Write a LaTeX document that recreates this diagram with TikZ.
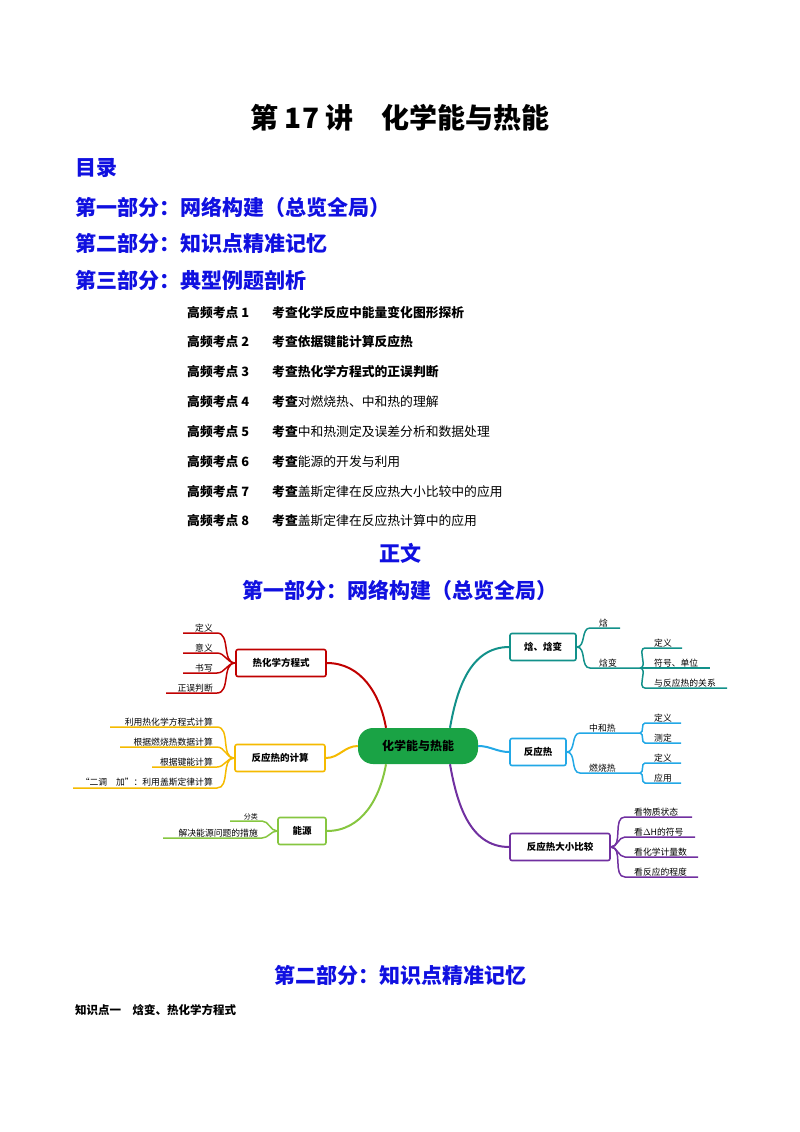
\documentclass[tikz,border=0pt]{standalone}
\usepackage{fontspec}
\setmainfont{Liberation Serif}
\newfontfamily\cjk{Noto Sans CJK SC}
\definecolor{tblue}{HTML}{1010E0}
\definecolor{cred}{HTML}{C00000}
\definecolor{cyel}{HTML}{F5BA00}
\definecolor{cgrn}{HTML}{86C640}
\definecolor{cteal}{HTML}{12918A}
\definecolor{csky}{HTML}{22A8E6}
\definecolor{cpur}{HTML}{7030A0}
\definecolor{cctr}{HTML}{1AA345}
\tikzset{
  x=1pt,y=-1pt,
  hd/.style={font=\cjk\bfseries\fontsize{21}{22}\selectfont,text=tblue,inner sep=0},
  it/.style={font=\cjk\bfseries\fontsize{12.8}{13}\selectfont,anchor=west,inner sep=0},
  box/.style={draw,line width=1.6pt,rounded corners=2pt,fill=white,font=\cjk\bfseries\fontsize{9.5}{10}\selectfont,minimum height=27pt,inner xsep=4pt},
  br/.style={line width=2pt},
  lf/.style={line width=1.5pt},
  lt/.style={font=\cjk\fontsize{8.8}{9}\selectfont,anchor=south east,inner sep=1pt},
}
\newcommand{\leafx}[7]{%
  \coordinate (#1r) at (#5,#6); \coordinate (#1l) at (#4,#6);
  \draw[lf,#2] (#3) to[out=180,in=0] (#1r) -- (#1l);
  \node[lt] (#1t) at (#5-3,#6) {#7};}
\newcommand{\leafy}[7]{%
  \coordinate (#1l) at (#4,#6); \coordinate (#1r) at (#5,#6);
  \draw[lf,#2] (#3) to[out=0,in=180] (#1l) -- (#1r);
  \node[lt,anchor=south west] (#1t) at (#4+8,#6) {#7};}
\begin{document}
\begin{tikzpicture}
\useasboundingbox (0,0) rectangle (800,1132);
\node[font=\cjk\bfseries\fontsize{28}{29}\selectfont] (title) at (400,118) {第 17 讲\quad 化学能与热能};
\node[hd,anchor=west] (ml) at (75,168) {目录};
\node[hd,anchor=west] (p1) at (75,207) {第一部分：网络构建（总览全局）};
\node[hd,anchor=west] (p2) at (75,243) {第二部分：知识点精准记忆};
\node[hd,anchor=west] (p3) at (75,280) {第三部分：典型例题剖析};
\foreach \i/\y/\t in {1/313/{\bfseries 考查化学反应中能量变化图形探析},
  2/342/{\bfseries 考查依据键能计算反应热},
  3/372/{\bfseries 考查热化学方程式的正误判断},
  4/402/{\bfseries 考查}{\mdseries 对燃烧热、中和热的理解},
  5/432/{\bfseries 考查}{\mdseries 中和热测定及误差分析和数据处理},
  6/462/{\bfseries 考查}{\mdseries 能源的开发与利用},
  7/492/{\bfseries 考查}{\mdseries 盖斯定律在反应热大小比较中的应用},
  8/521/{\bfseries 考查}{\mdseries 盖斯定律在反应热计算中的应用}}{
  \node[it] (k\i) at (187,\y) {高频考点 \i};
  \node[it] (t\i) at (272,\y) {\t};
}
\node[hd] (zw) at (400,553) {正文};
\node[hd] (p1b) at (400,590) {第一部分：网络构建（总览全局）};
\node[hd] (p2b) at (400,975) {第二部分：知识点精准记忆};
\node[it,font=\cjk\bfseries\fontsize{11.5}{12}\selectfont] (z1) at (75,1010) {知识点一\quad 焓变、热化学方程式};

\node[fill=cctr,rounded corners=15pt,minimum width=120pt,minimum height=36pt,font=\cjk\bfseries\fontsize{12}{12}\selectfont] (c) at (418,746) {化学能与热能};
\node[box,draw=cred,minimum width=90pt] (a) at (281,663) {热化学方程式};
\node[box,draw=cyel,minimum width=90pt] (b) at (280,758) {反应热的计算};
\node[box,draw=cgrn,minimum width=48pt] (d) at (302,831) {能源};
\node[box,draw=cteal,minimum width=66pt] (e) at (543,647) {焓、焓变};
\node[box,draw=csky,minimum width=56pt] (f) at (538,752) {反应热};
\node[box,draw=cpur,minimum width=100pt] (g) at (560,847) {反应热大小比较};
\draw[br,cred] ([xshift=-32pt]c.north) to[out=100,in=0] (a.east);
\draw[br,cyel] (c.west) to[out=180,in=0] (b.east);
\draw[br,cgrn] ([xshift=-32pt]c.south) to[out=-100,in=0] (d.east);
\draw[br,cteal] ([xshift=32pt]c.north) to[out=80,in=180] (e.west);
\draw[br,csky] (c.east) to[out=0,in=180] (f.west);
\draw[br,cpur] ([xshift=32pt]c.south) to[out=-80,in=180] (g.west);
\leafx{a1}{cred}{a.west}{183}{217}{633}{定义}
\leafx{a2}{cred}{a.west}{183}{217}{653}{意义}
\leafx{a3}{cred}{a.west}{183}{217}{673}{书写}
\leafx{a4}{cred}{a.west}{166}{217}{693}{正误判断}
\leafx{b1}{cyel}{b.west}{110}{217}{727}{利用热化学方程式计算}
\leafx{b2}{cyel}{b.west}{120}{217}{747}{根据燃烧热数据计算}
\leafx{b3}{cyel}{b.west}{152}{217}{767}{根据键能计算}
\leafx{b4}{cyel}{b.west}{73}{217}{788}{“二调\quad 加”：利用盖斯定律计算}
\leafx{d1}{cgrn}{d.west}{230}{262}{821}{\fontsize{7}{7}\selectfont 分类}
\leafx{d2}{cgrn}{d.west}{163}{262}{838}{解决能源问题的措施}
\leafy{e1}{cteal}{e.east}{590}{620}{628}{焓}
\leafy{e2}{cteal}{e.east}{590}{640}{668}{焓变}
\leafy{e3}{cteal}{e2r}{645}{682}{648}{定义}
\leafy{e4}{cteal}{e2r}{645}{710}{668}{符号、单位}
\leafy{e5}{cteal}{e2r}{645}{727}{688}{与反应热的关系}
\leafy{f1}{csky}{f.east}{580}{640}{733}{中和热}
\leafy{f2}{csky}{f.east}{580}{640}{773}{燃烧热}
\leafy{f3}{csky}{f1r}{645}{681}{723}{定义}
\leafy{f4}{csky}{f1r}{645}{681}{743}{测定}
\leafy{f5}{csky}{f2r}{645}{681}{763}{定义}
\leafy{f6}{csky}{f2r}{645}{681}{783}{应用}
\leafy{g1}{cpur}{g.east}{625}{692}{817}{看物质状态}
\leafy{g2}{cpur}{g.east}{625}{695}{837}{看$\Delta$H的符号}
\leafy{g3}{cpur}{g.east}{625}{698}{857}{看化学计量数}
\leafy{g4}{cpur}{g.east}{625}{698}{877}{看反应的程度}
\end{tikzpicture}
\end{document}
